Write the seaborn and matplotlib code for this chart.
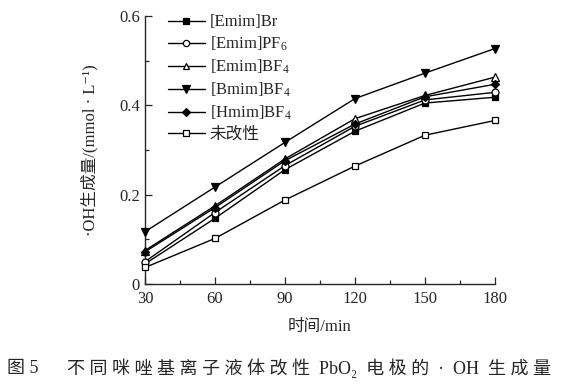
import numpy as np
import pandas as pd
import matplotlib
matplotlib.use("Agg")
import matplotlib.pyplot as plt
import seaborn as sns
from matplotlib.ticker import MultipleLocator

# -------------------------------------------------------
# Data
# -------------------------------------------------------

time_min = [30, 60, 90, 120, 150, 180]

emim_br = [0.045, 0.147, 0.256, 0.342, 0.405, 0.418]
emim_pf6 = [0.050, 0.160, 0.265, 0.353, 0.412, 0.429]
emim_bf4 = [0.075, 0.175, 0.280, 0.370, 0.422, 0.463]
bmim_bf4 = [0.117, 0.217, 0.317, 0.415, 0.472, 0.527]
hmim_bf4 = [0.072, 0.171, 0.276, 0.358, 0.419, 0.447]
unmodified = [0.037, 0.102, 0.188, 0.264, 0.333, 0.366]

series_names = [
    "[Emim]Br",
    "[Emim]PF$_6$",
    "[Emim]BF$_4$",
    "[Bmim]BF$_4$",
    "[Hmim]BF$_4$",
    "未改性",
]
series_values = [emim_br, emim_pf6, emim_bf4, bmim_bf4, hmim_bf4, unmodified]

# long-form table for seaborn
rows = []
for name, vals in zip(series_names, series_values):
    for t, v in zip(time_min, vals):
        rows.append({"time": t, "value": v, "series": name})
df = pd.DataFrame(rows)

# -------------------------------------------------------
# Style
# -------------------------------------------------------

sns.set_style("ticks")
plt.rcParams["font.family"] = ["Liberation Serif", "Noto Sans CJK SC", "DejaVu Serif"]
plt.rcParams["mathtext.fontset"] = "custom"
plt.rcParams["mathtext.rm"] = "Liberation Serif"
plt.rcParams["mathtext.it"] = "Liberation Serif:italic"
plt.rcParams["axes.unicode_minus"] = False

fig = plt.figure(figsize=(5.67, 3.88), dpi=100)
ax = fig.add_axes([0.2557, 0.268, 0.873 - 0.2557, 0.959 - 0.268])

markers = ["s", "o", "^", "v", "D", "s"]
fills = ["black", "white", "white", "black", "black", "white"]
sizes = [4.5, 5, 5.5, 6, 4.5, 4.5]

for i, name in enumerate(series_names):
    sub = df[df["series"] == name]
    sns.lineplot(
        data=sub, x="time", y="value", ax=ax,
        color="black", linewidth=1.0,
        marker=markers[i], markersize=sizes[i],
        markerfacecolor=fills[i], markeredgecolor="black",
        markeredgewidth=0.9, label=name, clip_on=False, zorder=3,
    )

ax.set_xlim(30, 180)
ax.set_ylim(0, 0.6)
ax.set_xticks(time_min)
ax.set_yticks([0, 0.2, 0.4, 0.6])
ax.set_yticklabels(["0", "0.2", "0.4", "0.6"])
ax.xaxis.set_minor_locator(MultipleLocator(15))
ax.yaxis.set_minor_locator(MultipleLocator(0.1))
ax.tick_params(which="both", direction="in", labelsize=12, width=0.9)
ax.tick_params(which="major", length=5)
ax.tick_params(which="minor", length=3)
ax.tick_params(axis="x", pad=5)
sns.despine(ax=ax)
for sp in ["left", "bottom"]:
    ax.spines[sp].set_linewidth(1.0)

ax.set_xlabel("时间/min", fontsize=12, labelpad=9)
ax.set_ylabel("·OH生成量/(mmol · L⁻¹)", fontsize=12, labelpad=15)

ax.legend(
    loc="upper left", bbox_to_anchor=(0.032, 1.049), frameon=False,
    fontsize=12, handlelength=2.2, handletextpad=0.3,
    labelspacing=0.27, borderaxespad=0.3, markerscale=0.9,
)

# caption, CJK glyphs spaced out as in the printed figure
fig.text(7 / 567, 0.05, "图 5", ha="left", va="center", fontsize=13)
fig.text(67 / 567, 0.05,
         "不 同 咪 唑 基 离 子 液 体 改 性  PbO₂  电 极 的  ·  OH  生 成 量",
         ha="left", va="center", fontsize=13)

fig.savefig("out.png", dpi=100)
